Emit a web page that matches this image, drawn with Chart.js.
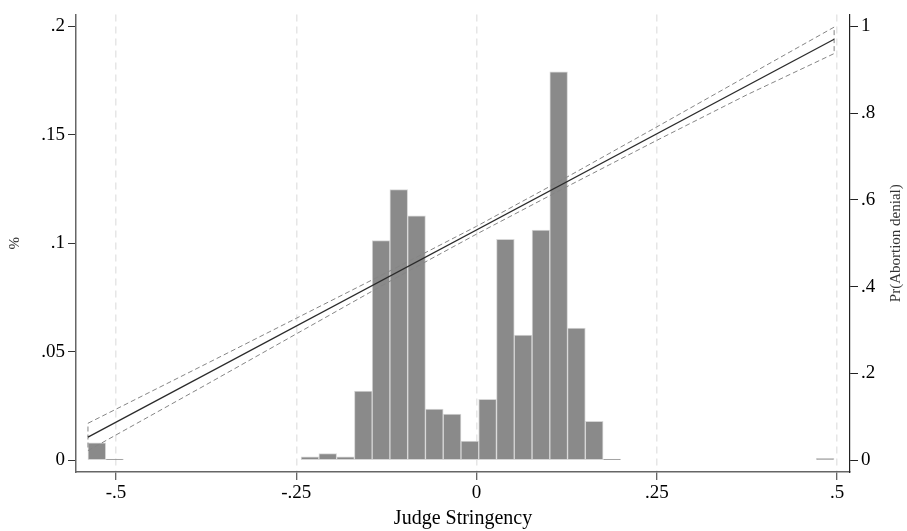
<!DOCTYPE html>
<html>
<head>
<meta charset="utf-8">
<script src="https://cdn.jsdelivr.net/npm/chart.js@4/dist/chart.umd.min.js"></script>
<style>
  html, body { margin: 0; padding: 0; background: #fff; }
  canvas { display: block; }
</style>
</head>
<body>
<canvas id="histChart" width="907" height="531"></canvas>
<script>
// histogram bins (centres, judge stringency) and share of cases per bin
const binCenters = [-0.5267, -0.5021, -0.4775, -0.4528, -0.4282, -0.4035, -0.3789, -0.3543, -0.3296, -0.3050,
    -0.2803, -0.2557, -0.2311, -0.2064, -0.1818, -0.1571, -0.1325, -0.1079, -0.0832, -0.0586,
    -0.0339, -0.0093, 0.0153, 0.0400, 0.0646, 0.0893, 0.1139, 0.1385, 0.1632, 0.1878,
    0.2125, 0.2371, 0.2617, 0.2864, 0.3110, 0.3357, 0.3603, 0.3849, 0.4096, 0.4342,
    0.4589, 0.4835];
const binShare = [0.0080, 0.0005, 0, 0, 0, 0, 0, 0, 0, 0,
    0, 0, 0.0015, 0.0030, 0.0015, 0.0318, 0.1012, 0.1247, 0.1126, 0.0235,
    0.0212, 0.0088, 0.0280, 0.1018, 0.0576, 0.1060, 0.1790, 0.0609, 0.0179, 0.0005,
    0, 0, 0, 0, 0, 0, 0, 0, 0, 0,
    0, 0.0008];

// linear fit of Pr(abortion denial) with confidence band
const fitX = [-0.539, 0.496];
const fitY = [0.053, 0.970];
const ciX = [-0.539, -0.375, -0.25, -0.125, 0, 0.125, 0.25, 0.375, 0.496];
const ciUpper = [0.085, 0.222, 0.327, 0.432, 0.539, 0.652, 0.768, 0.885, 0.998];
const ciLower = [0.022, 0.174, 0.291, 0.408, 0.521, 0.630, 0.737, 0.842, 0.937];

// ticks
const xTicks = [-0.5, -0.25, 0, 0.25, 0.5];
const xTickLabels = ['-.5', '-.25', '0', '.25', '.5'];
const pctTicks = [0, 0.05, 0.1, 0.15, 0.2];
const pctTickLabels = ['0', '.05', '.1', '.15', '.2'];
const prTicks = [0, 0.2, 0.4, 0.6, 0.8, 1];
const prTickLabels = ['0', '.2', '.4', '.6', '.8', '1'];

const serif = '"Liberation Serif", "DejaVu Serif", serif';

// closed outline of the band: upper edge left->right, lower edge right->left
const ciOutline = ciX.map((x, i) => ({ x: x, y: ciUpper[i] }))
    .concat(ciX.slice().reverse().map((x, i) => ({ x: x, y: ciLower[ciX.length - 1 - i] })));
ciOutline.push({ x: ciX[0], y: ciUpper[0] });

// rotated axis titles, both reading bottom to top
const axisTitles = {
    id: 'axisTitles',
    afterDraw(chart) {
        const ctx = chart.ctx;
        const area = chart.chartArea;
        const midY = (area.top + area.bottom) / 2;
        ctx.save();
        ctx.fillStyle = '#333';
        ctx.font = '15px ' + serif;
        ctx.textAlign = 'center';
        ctx.textBaseline = 'middle';
        [[15, '%'], [896, 'Pr(Abortion denial)']].forEach(([x, text]) => {
            ctx.save();
            ctx.translate(x, midY);
            ctx.rotate(-Math.PI / 2);
            ctx.fillText(text, 0, 0);
            ctx.restore();
        });
        ctx.restore();
    }
};

const ctx = document.getElementById('histChart').getContext('2d');
new Chart(ctx, {
    type: 'bar',
    data: {
        datasets: [
            {
                type: 'line',
                label: 'Fit',
                data: fitX.map((x, i) => ({ x: x, y: fitY[i] })),
                yAxisID: 'y2',
                borderColor: '#2b2b2b',
                borderWidth: 1.3,
                pointRadius: 0,
                tension: 0,
                fill: false
            },
            {
                type: 'line',
                label: '95% CI',
                data: ciOutline,
                yAxisID: 'y2',
                borderColor: '#858585',
                borderWidth: 1,
                borderDash: [5, 3],
                pointRadius: 0,
                tension: 0,
                fill: false
            },
            {
                label: 'Share',
                data: binCenters.map((x, i) => ({ x: x, y: binShare[i] })),
                yAxisID: 'y',
                backgroundColor: '#8a8a8a',
                borderColor: '#d6d6d6',
                borderWidth: 1,
                borderSkipped: false,
                barPercentage: 1,
                categoryPercentage: 1
            }
        ]
    },
    options: {
        responsive: false,
        animation: false,
        layout: { padding: { top: 8 } },
        plugins: {
            legend: { display: false },
            tooltip: { enabled: false }
        },
        scales: {
            x: {
                type: 'linear',
                position: 'bottom',
                offset: false,
                min: -0.5556,
                max: 0.518,
                afterBuildTicks: scale => { scale.ticks = xTicks.map(v => ({ value: v })); },
                afterFit: scale => { scale.height = 59; },
                ticks: {
                    color: '#000',
                    font: { family: serif, size: 19 },
                    padding: 2,
                    maxRotation: 0,
                    callback: (value, index) => xTickLabels[index]
                },
                grid: {
                    offset: false,
                    color: '#e6e6e6',
                    lineWidth: 1.5,
                    tickColor: '#333',
                    tickWidth: 1,
                    tickLength: 8
                },
                border: { display: true, color: '#666', width: 1.5, dash: [7, 5] },
                title: {
                    display: true,
                    text: 'Judge Stringency',
                    color: '#000',
                    font: { family: serif, size: 20 },
                    padding: { top: 0, bottom: 0 }
                }
            },
            y: {
                position: 'left',
                min: -0.00545,
                max: 0.20545,
                afterBuildTicks: scale => { scale.ticks = pctTicks.map(v => ({ value: v })); },
                afterFit: scale => { scale.width = 76; },
                ticks: {
                    color: '#000',
                    font: { family: serif, size: 19 },
                    padding: 3,
                    callback: (value, index) => pctTickLabels[index]
                },
                grid: {
                    drawOnChartArea: false,
                    tickColor: '#333',
                    tickLength: 8
                },
                border: { display: true, color: '#666', width: 1.5 }
            },
            y2: {
                position: 'right',
                min: -0.0273,
                max: 1.0273,
                afterBuildTicks: scale => { scale.ticks = prTicks.map(v => ({ value: v })); },
                afterFit: scale => { scale.width = 57; },
                ticks: {
                    color: '#000',
                    font: { family: serif, size: 19 },
                    padding: 3,
                    callback: (value, index) => prTickLabels[index]
                },
                grid: {
                    drawOnChartArea: false,
                    tickColor: '#222',
                    tickLength: 8
                },
                border: { display: true, color: '#222', width: 1.2 }
            }
        }
    },
    plugins: [axisTitles]
});
</script>
</body>
</html>
